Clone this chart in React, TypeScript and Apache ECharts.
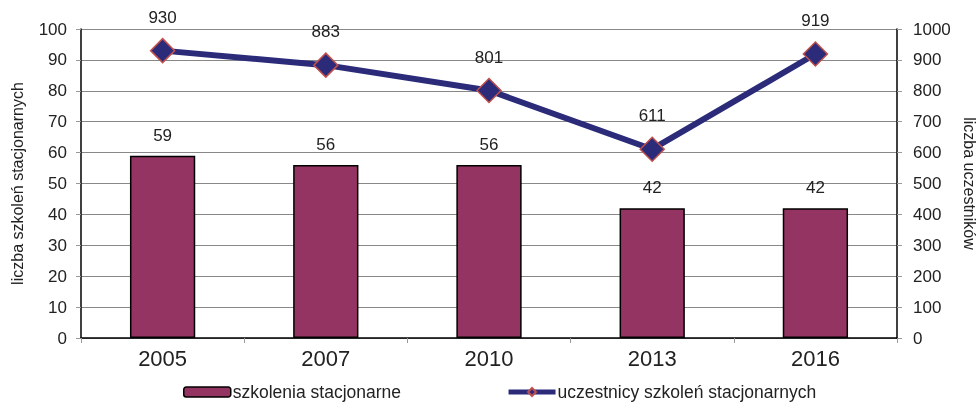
import React, { useEffect, useRef } from "react";
import * as echarts from "echarts";

const categories = ["2005", "2007", "2010", "2013", "2016"];
const szkolenia = [59, 56, 56, 42, 42];
const uczestnicy = [930, 883, 801, 611, 919];
const leftTicks = { min: 0, max: 100, interval: 10 };
const rightTicks = { min: 0, max: 1000, interval: 100 };

export default function App() {
  const ref = useRef<HTMLDivElement>(null);
  useEffect(() => {
    const chart = echarts.init(ref.current!, null, { renderer: "svg" });
    const font = "Liberation Sans, Arial, sans-serif";
    chart.setOption({
      animation: false,
      textStyle: { fontFamily: font },
      grid: {
        left: 81,
        right: 82,
        top: 29,
        bottom: 65,
        containLabel: false,
        outerBoundsMode: "none",
      },
      legend: {
        top: 383,
        left: 183,
        padding: 0,
        itemGap: 105,
        itemWidth: 47,
        itemHeight: 10,
        textStyle: { fontSize: 17.5, color: "#222", fontFamily: font, padding: [0, 0, 0, -3] },
        data: [
          { name: "szkolenia stacjonarne", itemStyle: { borderColor: "#000", borderWidth: 1.5 } },
          { name: "uczestnicy szkoleń stacjonarnych", lineStyle: { width: 5 } },
        ],
      },
      xAxis: {
        type: "category",
        data: categories,
        axisLine: { lineStyle: { color: "#000", width: 1.5 } },
        axisTick: { show: true, alignWithLabel: false, length: 5, lineStyle: { color: "#999" } },
        axisLabel: { fontSize: 22, color: "#222", margin: 9 },
      },
      yAxis: [
        {
          type: "value",
          ...leftTicks,
          name: "liczba szkoleń stacjonarnych",
          nameLocation: "middle",
          nameGap: 56,
          nameTextStyle: { fontSize: 16, color: "#222" },
          axisLine: { show: true, lineStyle: { color: "#000", width: 1.5 } },
          axisTick: { show: true, length: 5, lineStyle: { color: "#999" } },
          axisLabel: { fontSize: 17, color: "#222", margin: 14 },
          splitLine: { lineStyle: { color: "#888", width: 1 } },
        },
        {
          type: "value",
          ...rightTicks,
          name: "liczba uczestników",
          nameLocation: "middle",
          nameGap: 64,
          nameRotate: -90,
          nameTextStyle: { fontSize: 16, color: "#222" },
          axisLine: { show: true, lineStyle: { color: "#000", width: 1.5 } },
          axisTick: { show: true, length: 5, lineStyle: { color: "#999" } },
          axisLabel: { fontSize: 17, color: "#222", margin: 16, formatter: (v: number) => String(v) },
          splitLine: { show: false },
        },
      ],
      series: [
        {
          name: "szkolenia stacjonarne",
          type: "bar",
          data: szkolenia,
          barWidth: "40%",
          itemStyle: { color: "#943462", borderColor: "#000", borderWidth: 1.5 },
          label: { show: true, position: "top", distance: 12, fontSize: 17, color: "#222" },
        },
        {
          name: "uczestnicy szkoleń stacjonarnych",
          type: "line",
          yAxisIndex: 1,
          data: uczestnicy,
          symbol: "diamond",
          symbolSize: 24,
          lineStyle: { color: "#2b2b7a", width: 6 },
          itemStyle: { color: "#2b2b7a", borderColor: "#c0504d", borderWidth: 1.5 },
          label: { show: true, position: "top", distance: 12, fontSize: 17, color: "#222" },
        },
      ],
    });
    return () => chart.dispose();
  }, []);
  return (
    <div
      ref={ref}
      style={{ position: "fixed", left: 0, top: 0, width: 979, height: 403, overflow: "hidden" }}
    />
  );
}
